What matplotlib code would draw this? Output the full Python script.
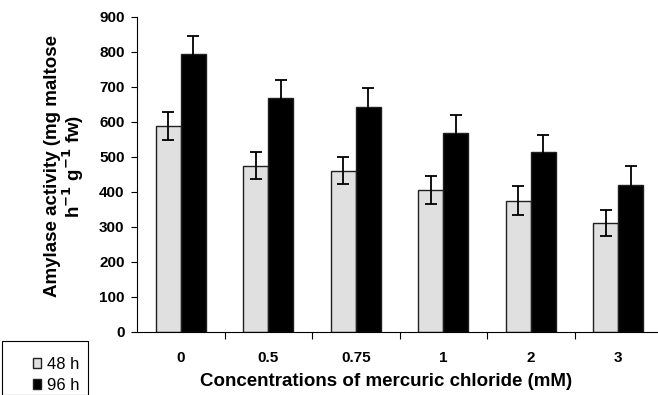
import matplotlib
matplotlib.use("Agg")
import matplotlib.pyplot as plt
from matplotlib.patches import Rectangle
import numpy as np

categories = ["0", "0.5", "0.75", "1", "2", "3"]
h48 = [588, 475, 460, 404, 375, 311]
h48_err = [39, 38, 39, 40, 41, 38]
h96 = [793, 668, 643, 569, 514, 420]
h96_err = [53, 53, 54, 52, 48, 53]

plt.rcParams['font.family'] = ['Liberation Sans', 'DejaVu Sans']

W, H = 658, 395
fig = plt.figure(figsize=(W/100, H/100), dpi=100)
ax = fig.add_axes([137/W, (H-331.7)/H, 525/W, 314.7/H])

x = np.arange(len(categories))
bw = 0.286
ax.bar(x - bw/2, h48, bw, color='#e0e0e0', edgecolor='#202020', linewidth=1.0,
       yerr=h48_err, capsize=4.5, error_kw=dict(elinewidth=1.3, capthick=1.3, ecolor='black', zorder=5), label='48 h')
ax.bar(x + bw/2, h96, bw, color='black', edgecolor='#202020', linewidth=1.0,
       yerr=h96_err, capsize=4.5, error_kw=dict(elinewidth=1.3, capthick=1.3, ecolor='black', zorder=5), label='96 h')

ax.set_xlim(-0.5, len(categories) - 0.5)
ax.set_ylim(0, 900)
ax.set_yticks(np.arange(0, 901, 100))
ax.set_yticklabels([str(v) for v in range(0, 901, 100)], fontweight='bold', fontsize=11)
ax.set_xticks(x)
ax.set_xticklabels(categories, fontweight='bold', fontsize=11)
ax.set_xticks(np.arange(0.5, len(categories) - 0.5, 1), minor=True)
ax.tick_params(axis='x', which='major', length=0, pad=14)
ax.tick_params(axis='x', which='minor', length=5, width=0.8, direction='out')
ax.tick_params(axis='y', length=4, width=0.8, direction='out', pad=5)
for s in ['top', 'right']:
    ax.spines[s].set_visible(False)
for s in ['left', 'bottom']:
    ax.spines[s].set_linewidth(0.8)

ax.set_xlabel("Concentrations of mercuric chloride (mM)", fontweight='bold', fontsize=13.5)
ax.xaxis.set_label_coords((386 - 137) / 525, -(382 - 331.7) / 314.7)
ax.xaxis.label.set_va('center')
ax.set_ylabel("Amylase activity (mg maltose\nh$^{\\mathbf{-1}}$ g$^{\\mathbf{-1}}$ fw)", fontweight='bold', fontsize=13.5,
              linespacing=0.95)
ax.yaxis.set_label_coords(-(137 - 65) / 525, (331.7 - 166) / 314.7)
ax.yaxis.label.set_va('center')

fig.patches.append(Rectangle((2/W, 0), 86/W, (H - 349)/H + 0.02, transform=fig.transFigure,
                             fill=False, edgecolor='black', linewidth=0.8, clip_on=False))
leg = fig.legend(loc='upper left', bbox_to_anchor=(33/W, 1 - 357/H), frameon=False,
                 fontsize=12, handlelength=0.5, handleheight=0.5, labelspacing=0.35,
                 handletextpad=0.35, borderpad=0, borderaxespad=0)

fig.savefig("out.png", dpi=100)
